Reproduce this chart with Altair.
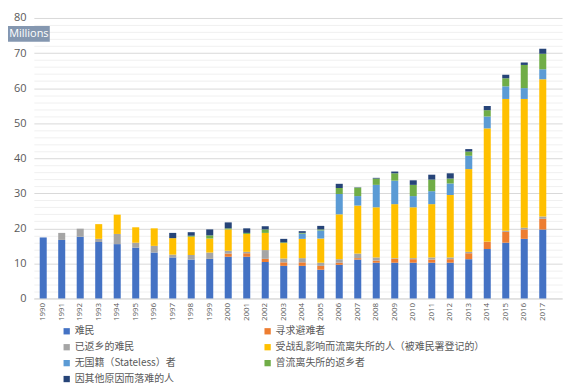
import altair as alt
import pandas as pd

years = ["1990", "1991", "1992", "1993", "1994", "1995", "1996", "1997", "1998", "1999",
         "2000", "2001", "2002", "2003", "2004", "2005", "2006", "2007", "2008", "2009",
         "2010", "2011", "2012", "2013", "2014", "2015", "2016", "2017"]

series_names = [
    "难民",
    "寻求避难者",
    "已返乡的难民",
    "受战乱影响而流离失所的人（被难民署登记的）",
    "无国籍（Stateless）者",
    "曾流离失所的返乡者",
    "因其他原因而落难的人",
]
colors = ["#4472C4", "#ED7D31", "#A5A5A5", "#FFC000", "#5B9BD5", "#70AD47", "#264478"]

refugees = [17.4, 16.7, 17.6, 16.1, 15.5, 14.5, 13.1, 11.7, 11.1, 11.3,
            11.9, 11.9, 10.4, 9.3, 9.3, 8.2, 9.6, 11.1, 10.2, 10.2,
            10.2, 10.2, 10.2, 11.2, 14.1, 15.9, 17.0, 19.7]
asylum = [0, 0, 0, 0, 0, 0, 0, 0, 0, 0,
          0.9, 1.0, 0.9, 1.0, 1.0, 1.1, 0.6, 0.4, 0.6, 1.1,
          1.0, 0.9, 1.0, 1.7, 2.0, 3.1, 2.7, 3.0]
returned_refugees = [0, 2.0, 2.3, 0.9, 2.9, 1.4, 1.9, 0.8, 1.3, 1.8,
                     0.8, 0.4, 2.5, 1.1, 1.2, 0.9, 1.0, 1.3, 0.9, 0.2,
                     0.3, 0.6, 0.5, 0.4, 0.1, 0.3, 0.5, 0.7]
idps = [0, 0, 0, 4.2, 5.5, 4.4, 5.0, 4.7, 5.2, 4.0,
        6.1, 5.1, 4.9, 4.4, 5.5, 6.9, 12.8, 13.7, 14.3, 15.4,
        14.5, 15.2, 17.8, 23.6, 32.3, 37.6, 36.7, 39.1]
stateless = [0, 0, 0, 0, 0, 0, 0, 0, 0, 0,
             0, 0, 0, 0, 1.5, 2.3, 5.8, 2.7, 6.4, 6.7,
             3.2, 3.7, 3.3, 3.8, 3.4, 3.6, 3.1, 2.9]
returned_idps = [0, 0, 0, 0, 0, 0, 0, 0, 0.3, 0.9,
                 0.3, 0.3, 1.0, 0.2, 0.2, 0.3, 1.7, 2.4, 1.8, 2.1,
                 3.2, 3.3, 1.4, 1.2, 1.8, 2.3, 6.6, 4.4]
others = [0, 0, 0, 0, 0, 0, 0, 1.5, 1.0, 1.7,
          1.7, 1.3, 0.9, 1.0, 0.5, 1.0, 1.2, 0.1, 0.2, 0.5,
          1.3, 1.4, 1.5, 0.7, 1.2, 1.0, 0.7, 1.4]

all_series = [refugees, asylum, returned_refugees, idps, stateless, returned_idps, others]

rows = []
for i, (name, vals) in enumerate(zip(series_names, all_series)):
    for y, v in zip(years, vals):
        rows.append({"year": y, "series": name, "value": v, "idx": i})
df = pd.DataFrame(rows)

bars = alt.Chart(df).mark_bar().encode(
    x=alt.X("year:O", sort=None,
            scale=alt.Scale(paddingInner=0.62, paddingOuter=0.584, align=0.27),
            axis=alt.Axis(title=None, labelAngle=-90, labelFontSize=8, labelColor="#595959",
                          labelFont="Open Sans", ticks=False, domainColor="#d9d9d9",
                          labelPadding=4)),
    y=alt.Y("value:Q", stack="zero",
            scale=alt.Scale(domain=[0, 80], nice=False),
            axis=alt.Axis(title=None, values=list(range(0, 81, 2)),
                          labelExpr="datum.value % 10 === 0 ? datum.label : ''",
                          gridColor={"condition": {"test": "datum.value % 10 === 0", "value": "#d9d9d9"},
                                     "value": "#f0f0f0"},
                          domain=False, ticks=False, labelPadding=8, labelFontSize=11,
                          labelFont="Open Sans", labelColor="#595959", labelOverlap=False)),
    color=alt.Color("series:N", scale=alt.Scale(domain=series_names, range=colors),
                    legend=alt.Legend(title=None, orient="none", legendX=28, legendY=310,
                                      direction="horizontal",
                                      columns=2, columnPadding=87, rowPadding=6,
                                      symbolType="square", symbolSize=40, symbolStrokeWidth=0,
                                      labelFont="Noto Sans CJK SC", labelFontSize=10,
                                      labelColor="#595959", labelOffset=3, padding=0,
                                      labelLimit=400)),
    order=alt.Order("idx:Q", sort="ascending"),
)

box = alt.Chart(alt.Data(values=[{"t": "Millions"}])).mark_rect(color="#8497B0").encode(
    x=alt.value(-26), x2=alt.value(16), y=alt.value(8), y2=alt.value(24)
)
txt = alt.Chart(alt.Data(values=[{"t": "Millions"}])).mark_text(
    color="white", fontSize=11, font="Open Sans"
).encode(x=alt.value(-5), y=alt.value(16), text="t:N")

chart = alt.layer(bars, box, txt).properties(
    width=531, height=282,
    autosize=alt.AutoSizeParams(type="none"),
    padding={"left": 26, "top": 9, "right": 10, "bottom": 90},
).configure_view(stroke=None)

chart.save("out.html", embed_options={"renderer": "svg", "actions": False})
